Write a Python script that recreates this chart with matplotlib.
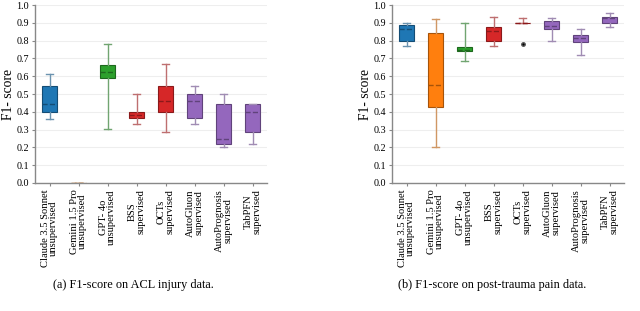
import numpy as np
import matplotlib.pyplot as plt
from matplotlib.colors import to_rgb

plt.rcParams['font.family'] = ['Liberation Serif', 'DejaVu Serif']

labels = ['Claude 3.5 Sonnet\nunsupervised', 'Gemini 1.5 Pro\nunsupervised',
          'GPT- 4o\nunsupervised', 'BSS\nsupervised', 'OCTs\nsupervised',
          'AutoGluon\nsupervised', 'AutoPrognosis\nsupervised', 'TabPFN\nsupervised']
colors = ['#1f77b4', '#ff7f0e', '#2ca02c', '#d62728', '#d62728',
          '#9467bd', '#9467bd', '#9467bd']

# (a) ACL injury data
acl_whislo = [0.36, 0.0, 0.305, 0.333, 0.285, 0.333, 0.20, 0.222]
acl_q1 = [0.40, 0.0, 0.59, 0.365, 0.40, 0.364, 0.222, 0.286]
acl_med = [0.445, 0.0, 0.625, 0.385, 0.46, 0.46, 0.25, 0.40]
acl_q3 = [0.545, 0.0, 0.665, 0.40, 0.545, 0.50, 0.444, 0.444]
acl_whishi = [0.615, 0.0, 0.78, 0.50, 0.667, 0.545, 0.50, 0.444]
acl_fliers = [[], [], [], [], [], [], [], []]

# (b) post-trauma pain data
pain_whislo = [0.77, 0.205, 0.685, 0.77, 0.90, 0.80, 0.72, 0.875]
pain_q1 = [0.80, 0.425, 0.74, 0.80, 0.898, 0.865, 0.79, 0.90]
pain_med = [0.865, 0.55, 0.75, 0.855, 0.90, 0.88, 0.815, 0.925]
pain_q3 = [0.89, 0.845, 0.765, 0.875, 0.902, 0.91, 0.83, 0.935]
pain_whishi = [0.90, 0.92, 0.90, 0.935, 0.925, 0.925, 0.865, 0.955]
pain_fliers = [[], [], [], [], [0.78], [], [], []]


def mix(c, other, t):
    a = np.array(to_rgb(c))
    b = np.array(to_rgb(other))
    return tuple(a * (1 - t) + b * t)


def draw(ax, whislo, q1, med, q3, whishi, fliers):
    stats = []
    for i in range(len(labels)):
        stats.append(dict(whislo=whislo[i], q1=q1[i], med=med[i], q3=q3[i],
                          whishi=whishi[i], fliers=fliers[i]))
    pos = np.arange(len(labels))
    for i, s in enumerate(stats):
        c = colors[i]
        dark = mix(c, 'black', 0.35)
        light = mix(c, '#aaaaaa', 0.55)
        ax.bxp([s], positions=[pos[i]], widths=0.55, patch_artist=True,
               boxprops=dict(facecolor=c, edgecolor=dark, linewidth=0.8),
               medianprops=dict(color=dark, linewidth=1.0, linestyle='--'),
               whiskerprops=dict(color=light, linewidth=1.0),
               capprops=dict(color=light, linewidth=1.0),
               flierprops=dict(marker='o', markersize=2.5, markerfacecolor='black',
                               markeredgecolor='#555555'))
    ax.set_xlim(-0.5, len(labels) - 0.5)
    ax.set_ylim(0, 1.0)
    ax.set_yticks(np.arange(0, 1.01, 0.1))
    ax.set_yticklabels([f'{v:.1f}' for v in np.arange(0, 1.01, 0.1)], fontsize=7.3)
    ax.set_xticks(pos)
    ax.set_xticklabels(labels, rotation=90, fontsize=7.6, linespacing=0.95)
    ax.set_ylabel('F1- score', fontsize=9.8, labelpad=0.5)
    ax.grid(axis='y', color='#eeeeee', linewidth=0.8)
    ax.set_axisbelow(True)
    for sp in ['top', 'right']:
        ax.spines[sp].set_visible(False)
    for sp in ['left', 'bottom']:
        ax.spines[sp].set_color('#888888')
        ax.spines[sp].set_linewidth(1.0)
    ax.tick_params(axis='both', length=2.5, width=0.8, color='#888888', pad=2)


fig = plt.figure(figsize=(6.4, 3.11), dpi=100)
ax1 = fig.add_axes([0.0547, 0.4116, 0.3625, 0.572])
ax2 = fig.add_axes([0.6125, 0.4116, 0.3625, 0.572])
draw(ax1, acl_whislo, acl_q1, acl_med, acl_q3, acl_whishi, acl_fliers)
draw(ax2, pain_whislo, pain_q1, pain_med, pain_q3, pain_whishi, pain_fliers)

fig.text(133 / 640, 1 - 285 / 311, '(a) F1-score on ACL injury data.',
         ha='center', va='center', fontsize=8.8)
fig.text(492 / 640, 1 - 285 / 311, '(b) F1-score on post-trauma pain data.',
         ha='center', va='center', fontsize=8.8)

fig.savefig('out.png', dpi=100)
